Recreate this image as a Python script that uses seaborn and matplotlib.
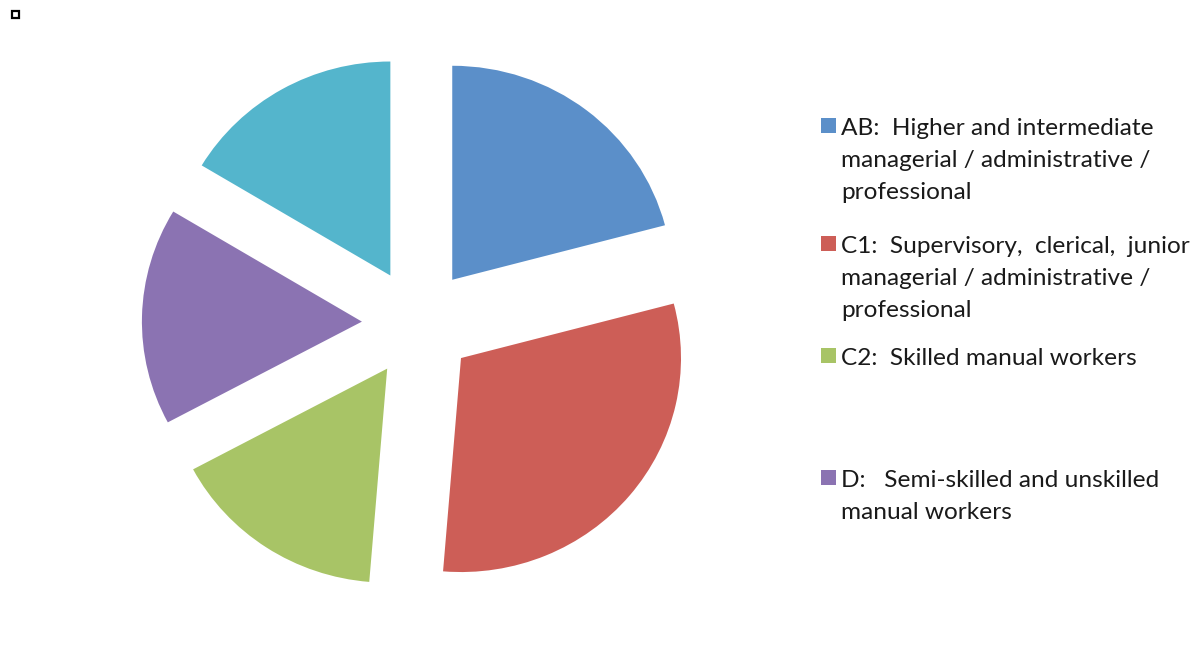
import matplotlib
matplotlib.use("Agg")
import matplotlib.pyplot as plt
from matplotlib.patches import Rectangle
import seaborn as sns

# Social grade shares (percent of sample)
grades = ["AB", "C1", "C2", "D", "E"]
shares = [20.9, 30.4, 15.9, 16.4, 16.4]
colors = ["#5B8FC9", "#CD5E57", "#A8C466", "#8B73B2", "#54B5CC"]

legend_labels = [
    ["AB:  Higher and intermediate", "managerial / administrative /", "professional"],
    ["C1:  Supervisory,  clerical,  junior", "managerial / administrative /", "professional"],
    ["C2:  Skilled manual workers"],
    ["D:   Semi-skilled and unskilled", "manual workers"],
]

sns.set_theme(style="white")
plt.rcParams["font.family"] = ["Lato", "DejaVu Sans"]

W, H = 1193, 646
fig = plt.figure(figsize=(W / 100, H / 100), dpi=100)
fig.patch.set_facecolor("white")

# axes box: pie centre at (418, 323) px, 220 px per unit across, 214 px per unit down
ax = fig.add_axes([66 / W, 2 / H, 704 / W, 642 / H])
ax.pie(
    shares,
    colors=sns.color_palette(colors),
    startangle=90,
    counterclock=False,
    explode=[0.255] * len(shares),
    radius=1.0,
    wedgeprops=dict(linewidth=0),
)
ax.set_aspect("auto")
ax.set_xlim(-1.6, 1.6)
ax.set_ylim(-1.5, 1.5)
ax.axis("off")

# legend drawn entry by entry: swatch + one text line per row (32 px rows)
first_baselines = [135, 253, 365, 487]
row_step = 32
for lines, color, base in zip(legend_labels, colors, first_baselines):
    fig.patches.append(Rectangle((821 / W, 1 - (base - 2) / H), 15 / W, 15 / H,
                                 transform=fig.transFigure, facecolor=color,
                                 edgecolor="none"))
    for i, line in enumerate(lines):
        fig.text(841 / W, 1 - (base + i * row_step) / H, line, fontsize=17.6,
                 color="#1a1a1a", va="baseline", ha="left",
                 transform=fig.transFigure)

# small framed square in the top-left corner
fig.patches.append(Rectangle((12 / W, 1 - 18 / H), 7 / W, 7 / H,
                             transform=fig.transFigure, facecolor="white",
                             edgecolor="black", linewidth=1.6))

fig.savefig("out.png", dpi=100, facecolor="white")
